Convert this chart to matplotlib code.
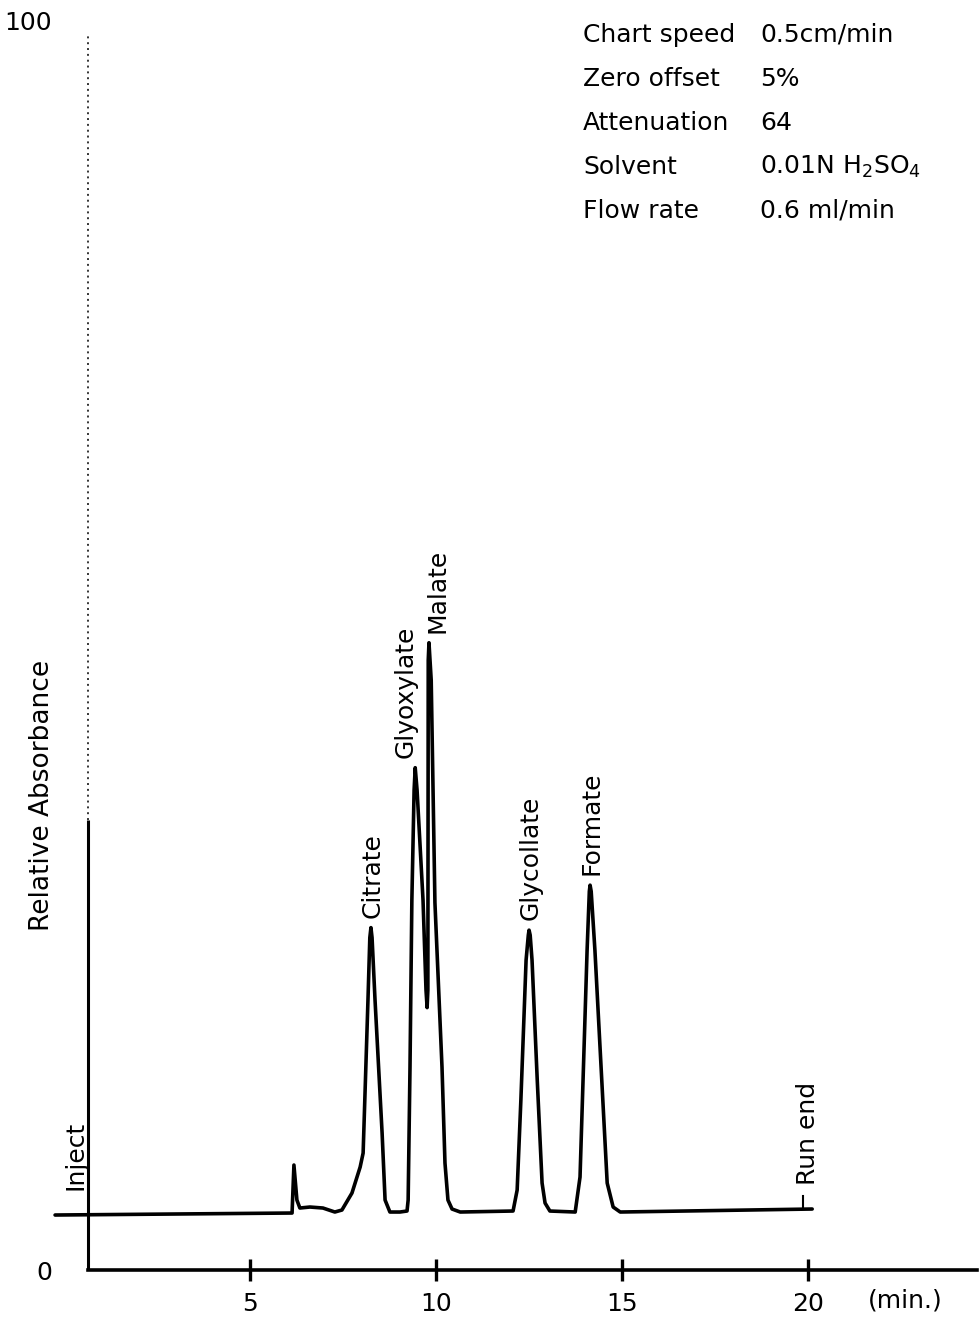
import matplotlib
matplotlib.use("Agg")
import matplotlib.pyplot as plt

# ---- data ----
trace_time = [-0.24, 6.13, 6.18, 6.26, 6.34, 6.61, 6.96, 7.28, 7.47, 7.74, 7.96, 8.04,
              8.17, 8.22, 8.25, 8.28, 8.36, 8.55, 8.63, 8.76, 9.03, 9.22, 9.25, 9.30, 9.35, 9.41,
              9.44, 9.49, 9.65, 9.73, 9.76, 9.78, 9.79, 9.81, 9.87, 9.97, 10.16, 10.24,
              10.32, 10.43, 10.65, 12.07, 12.18, 12.28, 12.42, 12.48, 12.50, 12.53, 12.58, 12.72, 12.85,
              12.93, 13.06, 13.74, 13.87, 14.06, 14.12, 14.14, 14.17, 14.27, 14.60, 14.76, 14.95, 20.11]
trace_abs = [4.40, 4.56, 8.40, 5.60, 4.96, 5.04, 4.96, 4.64, 4.80, 6.16, 8.24, 9.36,
             21.6, 26.6, 27.4, 26.6, 21.6, 10.96, 5.60, 4.64, 4.64, 4.72, 5.60, 16.24, 29.6, 38.4,
             40.2, 38.4, 29.6, 22.4, 21.0, 22.4, 48.8, 50.2, 47.2, 29.4, 16.24, 8.56,
             5.60, 4.88, 4.64, 4.72, 6.40, 13.6, 24.8, 26.8, 27.2, 26.8, 24.8, 15.2, 6.96,
             5.36, 4.72, 4.64, 7.44, 25.6, 30.3, 30.8, 30.3, 25.6, 6.96, 5.04, 4.64, 4.88]

peak_names = ["Citrate", "Glyoxylate", "Malate", "Glycollate", "Formate"]
peak_time = [8.25, 9.44, 9.81, 12.50, 14.14]
peak_abs = [27.4, 40.2, 50.2, 27.2, 30.8]

xticks = [5, 10, 15, 20]
yticks = [0, 100]
inject_time = 0.30
run_end_time = 19.87

cond_labels = ["Chart speed", "Zero offset", "Attenuation", "Solvent", "Flow rate"]
cond_values = ["0.5cm/min", "5%", "64", r"0.01N H$_2$SO$_4$", "0.6 ml/min"]

# ---- figure ----
plt.rcParams['font.family'] = ['DejaVu Sans']
plt.rcParams['mathtext.default'] = 'regular'
fig = plt.figure(figsize=(9.8, 13.22), dpi=100)
ax = fig.add_axes([88 / 980, 1 - 1270 / 1322, (977 - 88) / 980, (1270 - 18) / 1322])
ax.set_xlim(0.645, 24.54)
ax.set_ylim(0, 100.2)

for s in ["top", "right", "left"]:
    ax.spines[s].set_visible(False)
ax.spines["bottom"].set_linewidth(2.6)

# y axis: solid near the bottom, faded/dotted above
ax.plot([0.645, 0.645], [0, 36], color="black", lw=2.2, clip_on=False, solid_capstyle="butt")
ax.plot([0.645, 0.645], [36, 99], color="#333333", lw=1.4, ls=(0, (1, 2)), clip_on=False)

# chromatogram trace
ax.plot(trace_time, trace_abs, color="black", lw=2.6, clip_on=False,
        solid_joinstyle="round", solid_capstyle="round")
ax.plot([run_end_time, run_end_time], [4.9, 5.9], color="black", lw=1.5)

# ticks
ax.set_xticks(xticks)
ax.set_xticklabels([str(t) for t in xticks], fontsize=18)
ax.tick_params(axis="x", direction="inout", length=16, width=2.4, pad=8)
ax.set_yticks(yticks)
ax.set_yticklabels([str(t) for t in yticks], fontsize=18)
ax.tick_params(axis="y", length=0, pad=26)

ax.text(22.6, -2.45, "(min.)", fontsize=18, ha="center", va="center", clip_on=False)

# peak labels
offsets = {"Glyoxylate": -7, "Malate": 6}
for name, t, a in zip(peak_names, peak_time, peak_abs):
    ax.annotate(name, xy=(t, a), xytext=(offsets.get(name, 1), 7), textcoords="offset points",
                rotation=90, ha="center", va="bottom", fontsize=18)

ax.text(inject_time, 6.4, "Inject", rotation=90, ha="center", va="bottom", fontsize=18, clip_on=False)
ax.text(20.0, 6.8, "Run end", rotation=90, ha="center", va="bottom", fontsize=18)
ax.text(-0.6, 38.0, "Relative Absorbance", rotation=90, ha="center", va="center",
        fontsize=19, clip_on=False)

# conditions block
for i, (lab, val) in enumerate(zip(cond_labels, cond_values)):
    y = 1 - (35 + i * 44) / 1322
    fig.text(583 / 980, y, lab, fontsize=18, ha="left", va="center")
    fig.text(760 / 980, y, val, fontsize=18, ha="left", va="center")

fig.savefig("out.png", dpi=100, facecolor="white")
